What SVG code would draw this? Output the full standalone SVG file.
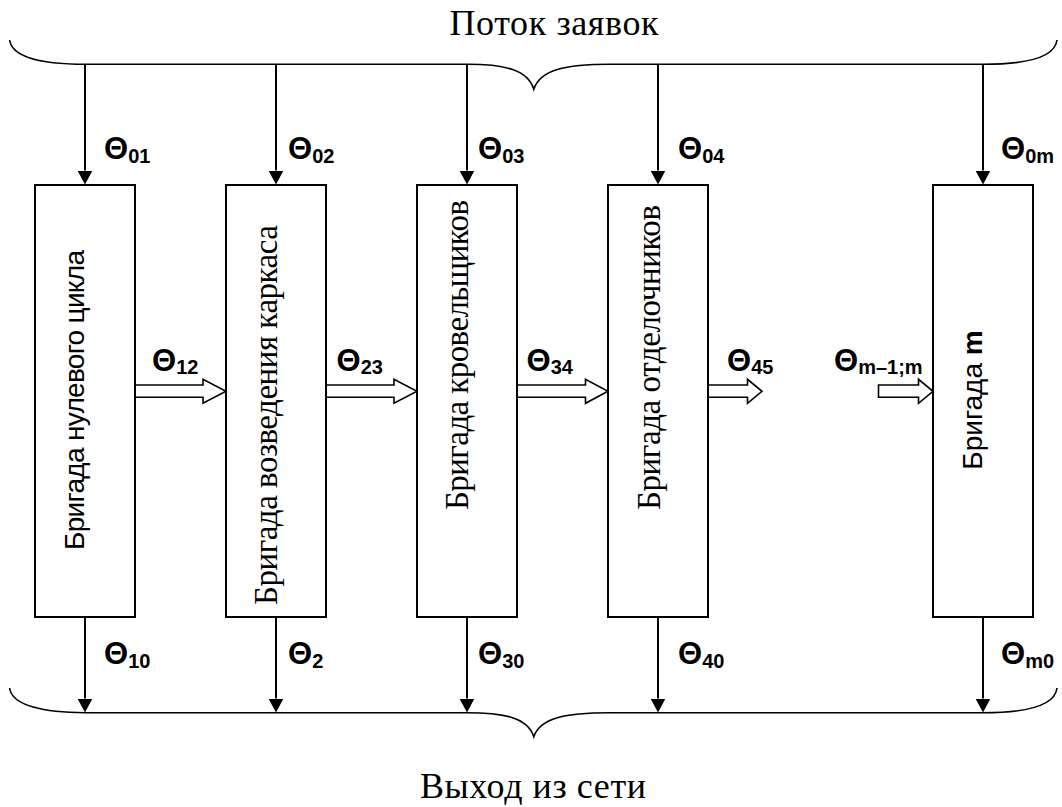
<svg xmlns="http://www.w3.org/2000/svg" width="1062" height="807" viewBox="0 0 1062 807">
<style>
.box{fill:#fff;stroke:#000;stroke-width:2}
.brace{fill:none;stroke:#000;stroke-width:1.6}
.ln{fill:none;stroke:#000;stroke-width:2}
.blk{fill:#fff;stroke:#000;stroke-width:1.6;stroke-linejoin:miter}
.cap{font-family:"Liberation Serif","Times New Roman",serif;font-size:36px;fill:#000}
.ser{font-family:"Liberation Serif","Times New Roman",serif;font-size:33px;fill:#000}
.sans{font-family:"Liberation Sans",Arial,sans-serif;font-size:28px;fill:#000}
.th{font-family:"Liberation Sans",Arial,sans-serif;font-weight:bold;font-size:31px;fill:#000}
.sub{font-size:20px}
</style>
<defs>
<marker id="ah" viewBox="0 0 14 15" refX="0" refY="7.5" markerWidth="14" markerHeight="15" markerUnits="userSpaceOnUse" orient="auto">
<path d="M0,0 L14,7.5 L0,15 Z" fill="#000"/>
</marker>
</defs>

<text class="cap" x="554" y="35" text-anchor="middle" textLength="209">Поток заявок</text>
<text class="cap" x="533" y="798" text-anchor="middle" textLength="226">Выход из сети</text>

<g id="connectors">
<path class="brace" d="M9.6,40 C12,58 45,64.3 85,64.3 L468,64.3 C505,64.3 528,70 533.8,89.3 C540,70 565,64.3 610,64.3 L983,64.3 C1025,64.3 1055,58 1057,40"/>
<path class="brace" d="M9.6,688 C12,706 45,712.7 85,712.7 L467,712.7 C505,712.7 528,718 533.8,736.7 C540,718 565,712.7 610,712.7 L983,712.7 C1025,712.7 1055,706 1057,688"/>
<line class="ln" x1="85" y1="64" x2="85" y2="170.5" marker-end="url(#ah)"/>
<line class="ln" x1="276" y1="64" x2="276" y2="170.5" marker-end="url(#ah)"/>
<line class="ln" x1="467" y1="64" x2="467" y2="170.5" marker-end="url(#ah)"/>
<line class="ln" x1="658" y1="64" x2="658" y2="170.5" marker-end="url(#ah)"/>
<line class="ln" x1="983" y1="64" x2="983" y2="170.5" marker-end="url(#ah)"/>
<line class="ln" x1="85" y1="617" x2="85" y2="698.5" marker-end="url(#ah)"/>
<line class="ln" x1="276" y1="617" x2="276" y2="698.5" marker-end="url(#ah)"/>
<line class="ln" x1="467" y1="617" x2="467" y2="698.5" marker-end="url(#ah)"/>
<line class="ln" x1="658" y1="617" x2="658" y2="698.5" marker-end="url(#ah)"/>
<line class="ln" x1="983" y1="617" x2="983" y2="698.5" marker-end="url(#ah)"/>
<polygon class="blk" points="135,385 203,385 203,379.3 226,391.3 203,403.3 203,397.3 135,397.3"/>
<polygon class="blk" points="326,385 394,385 394,379.3 417,391.3 394,403.3 394,397.3 326,397.3"/>
<polygon class="blk" points="517,385 585.5,385 585.5,379.3 608,391.3 585.5,403.3 585.5,397.3 517,397.3"/>
<polygon class="blk" points="708,385 747.5,385 747.5,379.3 762,391.3 747.5,403.3 747.5,397.3 708,397.3"/>
<polygon class="blk" points="878.5,385 918.5,385 918.5,379.3 933,391.3 918.5,403.3 918.5,397.3 878.5,397.3"/>
</g>

<g id="labels">
<text class="th" x="104" y="159">Θ<tspan class="sub" dy="3.5">01</tspan></text>
<text class="th" x="288" y="159">Θ<tspan class="sub" dy="3.5">02</tspan></text>
<text class="th" x="478" y="159">Θ<tspan class="sub" dy="3.5">03</tspan></text>
<text class="th" x="678" y="159">Θ<tspan class="sub" dy="3.5">04</tspan></text>
<text class="th" x="1001" y="159">Θ<tspan class="sub" dy="3.5">0m</tspan></text>
<text class="th" x="104" y="664">Θ<tspan class="sub" dy="3.5">10</tspan></text>
<text class="th" x="288" y="664">Θ<tspan class="sub" dy="3.5">2</tspan></text>
<text class="th" x="478" y="664">Θ<tspan class="sub" dy="3.5">30</tspan></text>
<text class="th" x="678" y="664">Θ<tspan class="sub" dy="3.5">40</tspan></text>
<text class="th" x="1001" y="664">Θ<tspan class="sub" dy="3.5">m0</tspan></text>
<text class="th" x="152" y="371">Θ<tspan class="sub" dy="3.3">12</tspan></text>
<text class="th" x="336.5" y="371">Θ<tspan class="sub" dy="3.3">23</tspan></text>
<text class="th" x="526.6" y="371">Θ<tspan class="sub" dy="3.3">34</tspan></text>
<text class="th" x="727" y="371">Θ<tspan class="sub" dy="3.3">45</tspan></text>
<text class="th" x="834" y="371">Θ<tspan class="sub" dy="3.3">m–1;m</tspan></text>
</g>

<g id="node1">
<rect class="box" x="35" y="185" width="100" height="432"/>
<text class="sans" transform="translate(84,400) rotate(-90)" text-anchor="middle" textLength="300">Бригада нулевого цикла</text>
</g>
<g id="node2">
<rect class="box" x="226" y="185" width="100" height="432"/>
<text class="ser" transform="translate(277,415) rotate(-90)" text-anchor="middle" textLength="380">Бригада возведения каркаса</text>
</g>
<g id="node3">
<rect class="box" x="417" y="185" width="100" height="432"/>
<text class="ser" transform="translate(468,355) rotate(-90)" text-anchor="middle" textLength="310">Бригада кровельщиков</text>
</g>
<g id="node4">
<rect class="box" x="608" y="185" width="100" height="432"/>
<text class="ser" transform="translate(660,357.5) rotate(-90)" text-anchor="middle" textLength="305">Бригада отделочников</text>
</g>
<g id="node5">
<rect class="box" x="933" y="185" width="100" height="432"/>
<text class="sans" transform="translate(982,400) rotate(-90)" text-anchor="middle">Бригада <tspan font-weight="bold">m</tspan></text>
</g>
</svg>
